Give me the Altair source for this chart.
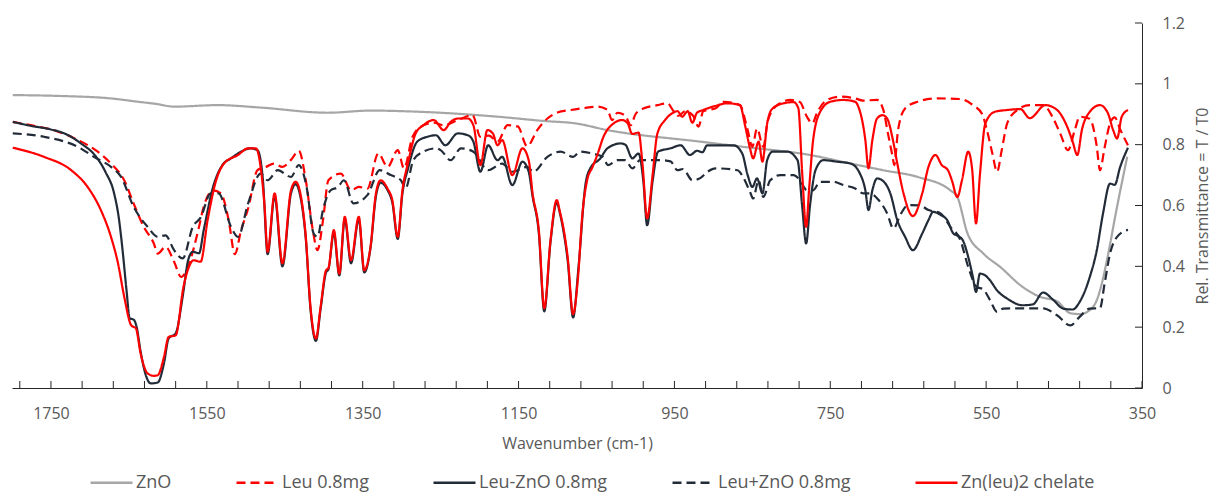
import altair as alt
import pandas as pd

SERIES = ["ZnO", "Leu 0.8mg", "Leu-ZnO 0.8mg", "Leu+ZnO 0.8mg", "Zn(leu)2 chelate"]
COLORS = ["#A6A6A6", "#FF0000", "#222B38", "#222B38", "#FF0000"]
DASHES = [[1, 0], [9, 5], [1, 0], [9, 5], [1, 0]]

X_LABELS = [1750, 1550, 1350, 1150, 950, 750, 550, 350]
X_TICKS = list(range(350, 1791, 40))
Y_LABELS = [0, 0.2, 0.4, 0.6, 0.8, 1.0, 1.2]

# (wavenumber cm-1, relative transmittance)
ZNO = [(1799,0.963),(1737,0.96),(1673,0.952),(1638,0.941),(1615,0.934),(1592,0.925),(1536,0.93),
       (1481,0.922),(1395,0.905),(1340,0.912),(1276,0.908),(1177,0.892),(1118,0.878),(1077,0.87),
       (1036,0.848),(917,0.81),(862,0.793),(776,0.766),(724,0.738),(682,0.716),(638,0.694),
       (596,0.65),(587,0.628),(574,0.509),(554,0.443),(532,0.398),(503,0.332),(481,0.30),
       (459,0.285),(442,0.246),(430,0.243),(417,0.256),(408,0.289),(400,0.36),(395,0.42),
       (382,0.596),(369,0.76)]

LEU = [(1799,0.875),(1776,0.864),(1750,0.85),(1715,0.815),(1690,0.777),(1673,0.738),(1656,0.683),
       (1644,0.607),(1631,0.53),(1618,0.475),(1613,0.442),(1603,0.464),(1592,0.415),(1583,0.365),
       (1574,0.40),(1561,0.519),(1554,0.596),(1542,0.65),(1532,0.64),(1522,0.552),(1514,0.44),
       (1506,0.519),(1497,0.59),(1485,0.716),(1474,0.727),(1464,0.738),(1453,0.727),(1442,0.75),
       (1432,0.78),(1423,0.683),(1414,0.519),(1408,0.453),(1401,0.55),(1394,0.683),(1378,0.705),
       (1365,0.65),(1355,0.661),(1344,0.655),(1330,0.771),(1318,0.727),(1305,0.782),(1297,0.722),
       (1286,0.826),(1272,0.864),(1259,0.872),(1246,0.864),(1228,0.881),(1209,0.897),(1199,0.826),
       (1188,0.83),(1177,0.81),(1164,0.864),(1151,0.86),(1139,0.795),(1126,0.848),(1113,0.886),
       (1100,0.906),(1083,0.914),(1067,0.92),(1049,0.925),(1036,0.915),(1030,0.881),(1023,0.905),
       (1013,0.895),(1006,0.864),(1000,0.9),(990,0.919),(972,0.93),(959,0.936),(951,0.91),
       (945,0.895),(936,0.91),(926,0.895),(919,0.859),(913,0.91),(897,0.92),(887,0.941),
       (866,0.93),(856,0.848),(850,0.793),(844,0.853),(836,0.793),(830,0.88),(818,0.93),
       (801,0.947),(789,0.94),(780,0.892),(773,0.87),(767,0.905),(754,0.947),(737,0.958),
       (718,0.952),(708,0.945),(690,0.947),(682,0.915),(676,0.837),(670,0.76),(668,0.733),
       (663,0.848),(654,0.919),(638,0.941),(613,0.952),(583,0.95),(567,0.93),(555,0.90),
       (549,0.848),(542,0.771),(536,0.711),(530,0.782),(523,0.87),(510,0.914),(494,0.93),
       (477,0.93),(465,0.892),(455,0.837),(445,0.782),(436,0.85),(430,0.892),(417,0.885),
       (408,0.793),(404,0.716),(398,0.79),(391,0.87),(385,0.89),(378,0.85),(368,0.798)]

LEU_ZNO = [(1799,0.875),(1776,0.862),(1750,0.85),(1731,0.835),(1712,0.805),(1692,0.76),(1680,0.71),
           (1669,0.64),(1663,0.56),(1658,0.45),(1653,0.32),(1649,0.229),(1644,0.225),(1640,0.20),
           (1635,0.12),(1628,0.04),(1622,0.015),(1613,0.018),(1605,0.081),(1599,0.163),(1590,0.18),
           (1581,0.30),(1574,0.42),(1568,0.448),(1560,0.443),(1554,0.519),(1542,0.661),(1530,0.733),
           (1519,0.755),(1506,0.777),(1494,0.788),(1485,0.782),(1478,0.683),(1472,0.44),(1463,0.63),
           (1453,0.40),(1442,0.64),(1436,0.67),(1430,0.63),(1423,0.49),(1417,0.26),(1410,0.155),
           (1404,0.26),(1397,0.38),(1394,0.39),(1387,0.51),(1380,0.37),(1373,0.555),(1365,0.41),
           (1355,0.555),(1348,0.38),(1340,0.46),(1333,0.63),(1327,0.675),(1318,0.65),(1312,0.61),
           (1305,0.49),(1299,0.64),(1292,0.72),(1280,0.81),(1267,0.826),(1256,0.831),(1244,0.798),
           (1228,0.837),(1215,0.831),(1208,0.81),(1199,0.711),(1189,0.798),(1177,0.749),(1171,0.76),
           (1158,0.667),(1145,0.744),(1137,0.711),(1132,0.63),(1124,0.51),(1117,0.252),(1109,0.48),
           (1101,0.61),(1097,0.575),(1092,0.51),(1087,0.42),(1080,0.232),(1073,0.40),(1064,0.672),
           (1058,0.722),(1045,0.755),(1036,0.788),(1019,0.804),(1013,0.80),(1004,0.755),(996,0.771),
           (990,0.683),(985,0.535),(978,0.68),(971,0.777),(955,0.788),(942,0.798),(930,0.766),
           (921,0.78),(914,0.775),(908,0.798),(897,0.798),(874,0.798),(863,0.771),(856,0.70),
           (850,0.661),(844,0.689),(837,0.64),(831,0.749),(824,0.777),(805,0.777),(792,0.749),
           (786,0.596),(781,0.475),(776,0.60),(769,0.716),(759,0.749),(741,0.744),(724,0.738),
           (712,0.705),(705,0.65),(701,0.585),(696,0.65),(690,0.689),(682,0.68),(673,0.64),
           (664,0.552),(654,0.497),(644,0.453),(632,0.508),(624,0.552),(618,0.579),(609,0.57),
           (600,0.552),(592,0.508),(586,0.50),(580,0.486),(573,0.431),(567,0.365),(563,0.316),
           (558,0.376),(551,0.37),(545,0.354),(536,0.321),(523,0.294),(503,0.272),(490,0.275),
           (477,0.314),(464,0.29),(451,0.261),(439,0.258),(430,0.283),(417,0.365),(408,0.453),
           (400,0.574),(391,0.672),(385,0.668),(378,0.727),(368,0.79)]

LEU_PLUS_ZNO = [(1799,0.837),(1759,0.826),(1712,0.788),(1695,0.76),(1673,0.727),(1660,0.694),
                (1644,0.596),(1626,0.53),(1613,0.497),(1603,0.502),(1592,0.453),(1581,0.426),
                (1568,0.53),(1558,0.56),(1545,0.64),(1535,0.64),(1519,0.53),(1510,0.497),
                (1497,0.607),(1481,0.705),(1472,0.683),(1459,0.716),(1442,0.694),(1432,0.733),
                (1422,0.661),(1413,0.508),(1408,0.497),(1401,0.585),(1391,0.65),(1382,0.66),
                (1374,0.683),(1362,0.607),(1344,0.634),(1328,0.716),(1314,0.70),(1301,0.683),
                (1295,0.656),(1285,0.749),(1272,0.777),(1256,0.788),(1250,0.782),(1237,0.749),
                (1224,0.788),(1208,0.777),(1189,0.716),(1171,0.738),(1158,0.711),(1139,0.727),
                (1131,0.711),(1113,0.76),(1096,0.777),(1080,0.76),(1071,0.777),(1054,0.77),
                (1042,0.76),(1035,0.733),(1023,0.749),(1013,0.749),(1004,0.722),(994,0.749),
                (968,0.749),(955,0.745),(946,0.716),(939,0.72),(927,0.683),(917,0.69),(908,0.71),
                (897,0.722),(869,0.716),(862,0.694),(853,0.645),(849,0.623),(842,0.683),(836,0.628),
                (827,0.683),(814,0.70),(797,0.70),(789,0.683),(780,0.65),(772,0.65),(763,0.678),
                (746,0.678),(733,0.667),(718,0.656),(708,0.64),(699,0.64),(688,0.618),(677,0.574),
                (669,0.524),(660,0.57),(650,0.601),(635,0.60),(624,0.585),(609,0.575),(596,0.53),
                (583,0.486),(573,0.398),(562,0.332),(554,0.325),(545,0.289),(536,0.25),(528,0.261),
                (503,0.262),(477,0.262),(459,0.239),(442,0.206),(430,0.234),(417,0.261),(404,0.262),
                (398,0.343),(391,0.442),(382,0.497),(368,0.52)]

CHELATE = [(1799,0.79),(1759,0.76),(1724,0.716),(1703,0.661),(1686,0.585),(1673,0.497),(1664,0.41),
           (1656,0.30),(1647,0.206),(1641,0.196),(1635,0.114),(1626,0.048),(1618,0.040),(1613,0.042),
           (1605,0.102),(1599,0.168),(1590,0.173),(1580,0.332),(1573,0.398),(1567,0.42),(1558,0.415),
           (1549,0.552),(1538,0.683),(1528,0.738),(1510,0.766),(1497,0.788),(1487,0.788),(1481,0.727),
           (1476,0.60),(1472,0.448),(1463,0.64),(1453,0.41),(1442,0.65),(1436,0.678),(1430,0.64),
           (1423,0.497),(1417,0.267),(1410,0.163),(1404,0.267),(1397,0.387),(1394,0.394),(1387,0.519),
           (1380,0.376),(1373,0.563),(1365,0.42),(1355,0.563),(1348,0.387),(1340,0.464),(1333,0.64),
           (1327,0.683),(1318,0.655),(1312,0.618),(1305,0.497),(1299,0.65),(1292,0.738),(1282,0.837),
           (1272,0.864),(1259,0.881),(1246,0.848),(1237,0.875),(1228,0.886),(1215,0.886),(1208,0.864),
           (1199,0.733),(1190,0.848),(1183,0.837),(1177,0.798),(1171,0.815),(1158,0.70),(1145,0.788),
           (1137,0.749),(1132,0.64),(1124,0.519),(1117,0.262),(1109,0.486),(1101,0.618),(1097,0.58),
           (1092,0.52),(1087,0.431),(1080,0.243),(1074,0.354),(1068,0.574),(1062,0.683),(1055,0.727),
           (1049,0.766),(1041,0.826),(1028,0.87),(1017,0.881),(1010,0.87),(1004,0.835),(996,0.84),
           (991,0.738),(985,0.558),(978,0.70),(972,0.835),(962,0.881),(953,0.903),(946,0.91),
           (940,0.892),(933,0.91),(927,0.872),(921,0.905),(913,0.914),(898,0.927),(882,0.936),
           (866,0.93),(859,0.859),(853,0.788),(849,0.755),(842,0.81),(837,0.744),(831,0.87),
           (824,0.919),(810,0.936),(797,0.94),(791,0.92),(786,0.705),(781,0.53),(777,0.66),
           (772,0.815),(763,0.908),(750,0.941),(733,0.947),(718,0.941),(714,0.925),(705,0.815),
           (701,0.722),(696,0.815),(690,0.886),(683,0.897),(677,0.886),(670,0.82),(664,0.738),
           (656,0.64),(644,0.565),(632,0.64),(624,0.727),(615,0.766),(607,0.733),(599,0.716),
           (594,0.683),(587,0.628),(581,0.683),(573,0.777),(568,0.72),(563,0.541),(558,0.70),
           (551,0.87),(539,0.908),(523,0.914),(506,0.917),(494,0.887),(474,0.93),(459,0.914),
           (446,0.859),(439,0.81),(433,0.766),(427,0.85),(417,0.908),(404,0.93),(394,0.905),
           (387,0.848),(382,0.82),(376,0.892),(368,0.914)]

DATA = [ZNO, LEU, LEU_ZNO, LEU_PLUS_ZNO, CHELATE]

rows = []
for name, pts in zip(SERIES, DATA):
    for w, t in pts:
        rows.append({"series": name, "w": w, "t": t})
df = pd.DataFrame(rows)
xt = pd.DataFrame({"w": X_TICKS})
yt = pd.DataFrame({"t": Y_LABELS})

TEXT = "#595959"
AXC = "#262626"
FONT = "Open Sans"

xs = alt.Scale(domain=[350, 1800], reverse=True, nice=False, zero=False)
ys = alt.Scale(domain=[0, 1.2], nice=False)

xaxis = alt.Axis(values=X_LABELS, title="Wavenumber (cm-1)", ticks=False, grid=False,
                 labelFlush=False, labelOverlap=False, labelPadding=17, titlePadding=14,
                 domainColor=AXC, domainWidth=1, labelColor=TEXT, titleColor=TEXT,
                 labelFontSize=16, titleFontSize=16, titleFontWeight="normal", format="d",
                 labelFont=FONT, titleFont=FONT)
yaxis = alt.Axis(orient="right", values=Y_LABELS, title="Rel. Transmittance = T / T0",
                 ticks=False, grid=False, labelFlush=False, labelOverlap=False, labelPadding=20,
                 format=".1~f", domainColor=AXC, domainWidth=1, labelColor=TEXT, titleColor=TEXT,
                 labelFontSize=16, titleFontSize=16, titleFontWeight="normal",
                 titleAngle=270, titleX=60, titleY=182.5, titleAlign="center",
                 titleBaseline="middle", labelFont=FONT, titleFont=FONT)

legend = alt.Legend(title=None, orient="none", legendX=77, legendY=437, direction="horizontal",
                    symbolType="stroke", symbolSize=1764, symbolStrokeWidth=2.5,
                    labelFontSize=18, labelColor=TEXT, labelFont=FONT, columnPadding=59,
                    labelOffset=2)

color = alt.Color("series:N", scale=alt.Scale(domain=SERIES, range=COLORS), legend=legend)
dash = alt.StrokeDash("series:N", scale=alt.Scale(domain=SERIES, range=DASHES), legend=legend)

xticks = alt.Chart(xt).mark_rule(color=AXC, strokeWidth=1).encode(
    x=alt.X("w:Q", scale=xs, axis=xaxis), y=alt.value(358), y2=alt.value(365))
yticks = alt.Chart(yt).mark_rule(color=AXC, strokeWidth=1).encode(
    y=alt.Y("t:Q", scale=ys, axis=yaxis), x=alt.value(1123), x2=alt.value(1130))

layers = [xticks, yticks]
for name in SERIES:
    layers.append(
        alt.Chart(df).transform_filter(alt.datum.series == name)
        .mark_line(strokeWidth=2.2, interpolate="monotone")
        .encode(x=alt.X("w:Q", scale=xs, axis=xaxis),
                y=alt.Y("t:Q", scale=ys, axis=yaxis),
                color=color, strokeDash=dash)
    )

chart = alt.layer(*layers).properties(
    width=1130, height=365,
    padding={"left": 4, "top": 15, "right": 70, "bottom": 106},
    autosize=alt.AutoSizeParams(type="none"),
).configure(font=FONT).configure_view(stroke=None)

chart.save("out.html", embed_options={"renderer": "svg", "actions": False})
